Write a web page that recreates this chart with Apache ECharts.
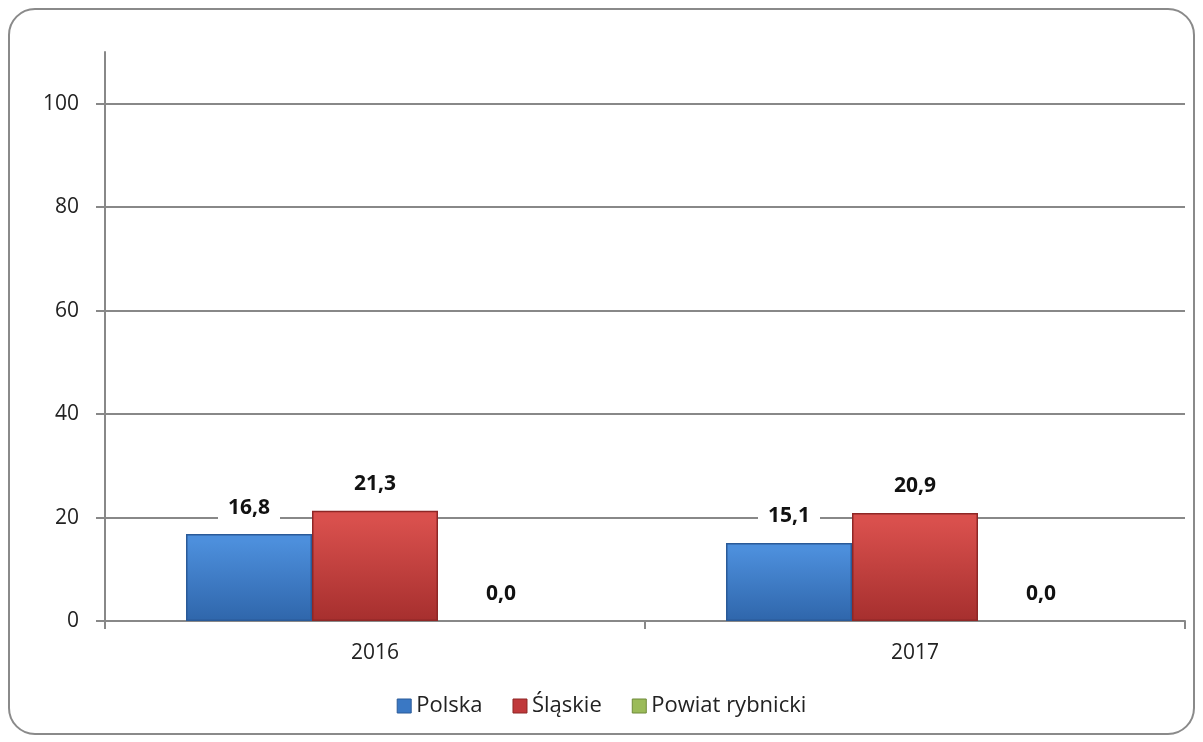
<!DOCTYPE html>
<html>
<head>
<meta charset="utf-8">
<script src="https://cdn.jsdelivr.net/npm/echarts@6/dist/echarts.min.js"></script>
<style>
html,body{margin:0;padding:0;background:#fff;}
#c{width:1203px;height:742px;}
</style>
</head>
<body>
<div id="c"></div>
<script>
const categories = ['2016', '2017'];
const seriesNames = ['Polska', 'Śląskie', 'Powiat rybnicki'];
const polska = [16.8, 15.1];
const slaskie = [21.3, 20.9];
const powiat = [0.0, 0.0];
const yTicks = [0, 20, 40, 60, 80, 100];

const FONT = '"Open Sans", "Noto Sans", sans-serif';
function grad(top, bottom) {
  return new echarts.graphic.LinearGradient(0, 0, 0, 1, [
    {offset: 0, color: top}, {offset: 0.08, color: top}, {offset: 1, color: bottom}
  ]);
}
const colors = [
  {fill: grad('#4d8fdc', '#2f66ab'), border: '#2a5a98', legend: '#3a78c4'},
  {fill: grad('#d9504d', '#a62f2e'), border: '#8e2726', legend: '#c0393b'},
  {fill: grad('#a9c96a', '#7e9c44'), border: '#6f8a3b', legend: '#9bbb59'}
];
const dataSets = [polska, slaskie, powiat];

const chart = echarts.init(document.getElementById('c'), null, {renderer: 'canvas'});
chart.setOption({
  backgroundColor: '#fff',
  animation: false,
  graphic: [{
    type: 'rect',
    shape: {x: 9, y: 9, width: 1185, height: 725, r: 26},
    style: {fill: 'none', stroke: '#8a8a8a', lineWidth: 2},
    silent: true, z: 100
  }],
  grid: {left: 105, right: 18, top: 52, bottom: 121, containLabel: false},
  legend: {
    bottom: 20,
    left: 'center',
    itemWidth: 14, itemHeight: 14, itemGap: 30,
    icon: 'rect',
    textStyle: {fontFamily: FONT, fontSize: 22, color: '#222'},
    data: seriesNames.map((n, i) => ({name: n, itemStyle: {color: colors[i].legend, borderColor: colors[i].border, borderWidth: 1}}))
  },
  xAxis: {
    type: 'category',
    data: categories,
    axisLine: {lineStyle: {color: '#888', width: 2}},
    axisTick: {show: true, length: 8, lineStyle: {color: '#888', width: 2}},
    axisLabel: {fontFamily: FONT, fontSize: 21, color: '#222', margin: 22}
  },
  yAxis: {
    type: 'value',
    min: 0, max: 110, interval: 20,
    axisLine: {show: true, lineStyle: {color: '#888', width: 2}},
    axisTick: {show: true, length: 9, lineStyle: {color: '#888', width: 2}},
    axisLabel: {fontFamily: FONT, fontSize: 21, color: '#222', margin: 26, showMaxLabel: false,
      formatter: v => (yTicks.indexOf(v) >= 0 ? String(v) : '')},
    splitLine: {show: true, showMaxLine: false, lineStyle: {color: '#888', width: 2}}
  },
  series: dataSets.map((d, i) => ({
    name: seriesNames[i],
    type: 'bar',
    data: d,
    barGap: '0%',
    barCategoryGap: '30%',
    itemStyle: {color: colors[i].fill, borderColor: colors[i].border, borderWidth: i === 2 ? 0 : 1.5},
    label: {
      show: true,
      position: 'top',
      distance: 14,
      formatter: p => p.value.toFixed(1).replace('.', ','),
      fontFamily: FONT, fontSize: 21, fontWeight: 'bold', color: '#111',
      backgroundColor: '#fff', padding: [2, 10]
    }
  }))
});
</script>
</body>
</html>
